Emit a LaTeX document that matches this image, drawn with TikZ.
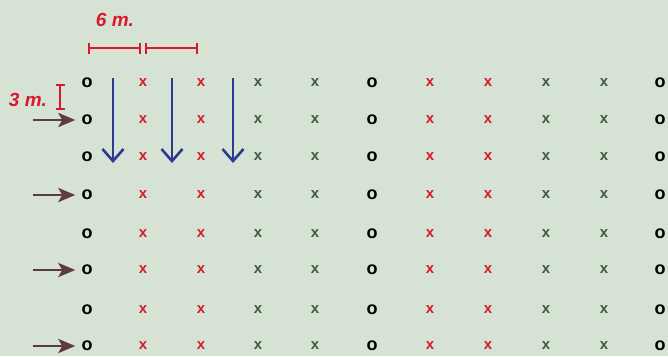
\documentclass[tikz,border=0pt]{standalone}
\usepackage{fontspec}
\setmainfont{Liberation Sans}
\usetikzlibrary{arrows.meta}
\definecolor{fieldbg}{HTML}{D6E2D3}
\definecolor{rowred}{HTML}{D8192B}
\definecolor{rowgreen}{HTML}{3B5E3C}
\definecolor{walkblue}{HTML}{2C3A8F}
\definecolor{feedbrown}{HTML}{5E3B3C}
\tikzset{
  hole/.style={inner sep=0pt,text=black,font=\bfseries\fontsize{18}{18}\selectfont},
  redx/.style={inner sep=0pt,text=rowred,font=\bfseries\fontsize{15}{15}\selectfont},
  greenx/.style={inner sep=0pt,text=rowgreen,font=\bfseries\fontsize{15}{15}\selectfont},
  measure/.style={draw=rowred,line width=2pt,{Bar[width=11pt]}-{Bar[width=11pt]}},
  measurelabel/.style={text=rowred,font=\bfseries\itshape\fontsize{19}{19}\selectfont},
  walk/.style={draw=walkblue,line width=2.6pt,-{Straight Barb[length=12pt,width=21pt,line width=2.6pt]}},
  feed/.style={draw=feedbrown,line width=2.8pt,-{Stealth[length=17pt,width=14pt,inset=4pt]}}
}
\begin{document}
\begin{tikzpicture}[x=1pt,y=-1pt]
\fill[fieldbg] (0,0) rectangle (668,356);
\useasboundingbox (0,0) rectangle (668,356);

% planting grid
\foreach \r [count=\j] in {83,120,157,195,234,270,310,346} {
  \foreach \c [count=\i] in {87,372,660}
    \node[hole] (hole-\i-\j) at (\c,\r) {o};
  \foreach \c [count=\i] in {143,201,430,488}
    \node[redx] (red-\i-\j) at (\c,\r) {x};
  \foreach \c [count=\i] in {258,315,546,604}
    \node[greenx] (green-\i-\j) at (\c,\r) {x};
}

% feeding rows
\foreach \j in {2,4,6,8} {
  \coordinate (in-\j) at (33,0 |- hole-1-\j);
  \draw[feed] (in-\j) -- (hole-1-\j.west) [shorten >=6pt];
}

% walking direction
\foreach \c [count=\i] in {113,172,233} {
  \coordinate (top-\i) at (\c,78);
  \coordinate (bot-\i) at (\c,163);
  \draw[walk] (top-\i) -- (bot-\i);
}

% spacings
\coordinate (m0) at (88,48);
\coordinate (m1) at (141,48);
\coordinate (m2) at (145,48);
\coordinate (m3) at (198,48);
\draw[measure] (m0) -- (m1);
\draw[measure] (m2) -- (m3);
\node[measurelabel] (six) at (115,20) {6 m.};
\coordinate (v0) at (60,84);
\coordinate (v1) at (60,110);
\draw[measure,{Bar[width=9pt]}-{Bar[width=9pt]}] (v0) -- (v1);
\node[measurelabel] (three) at (28,100) {3 m.};
\end{tikzpicture}
\end{document}
